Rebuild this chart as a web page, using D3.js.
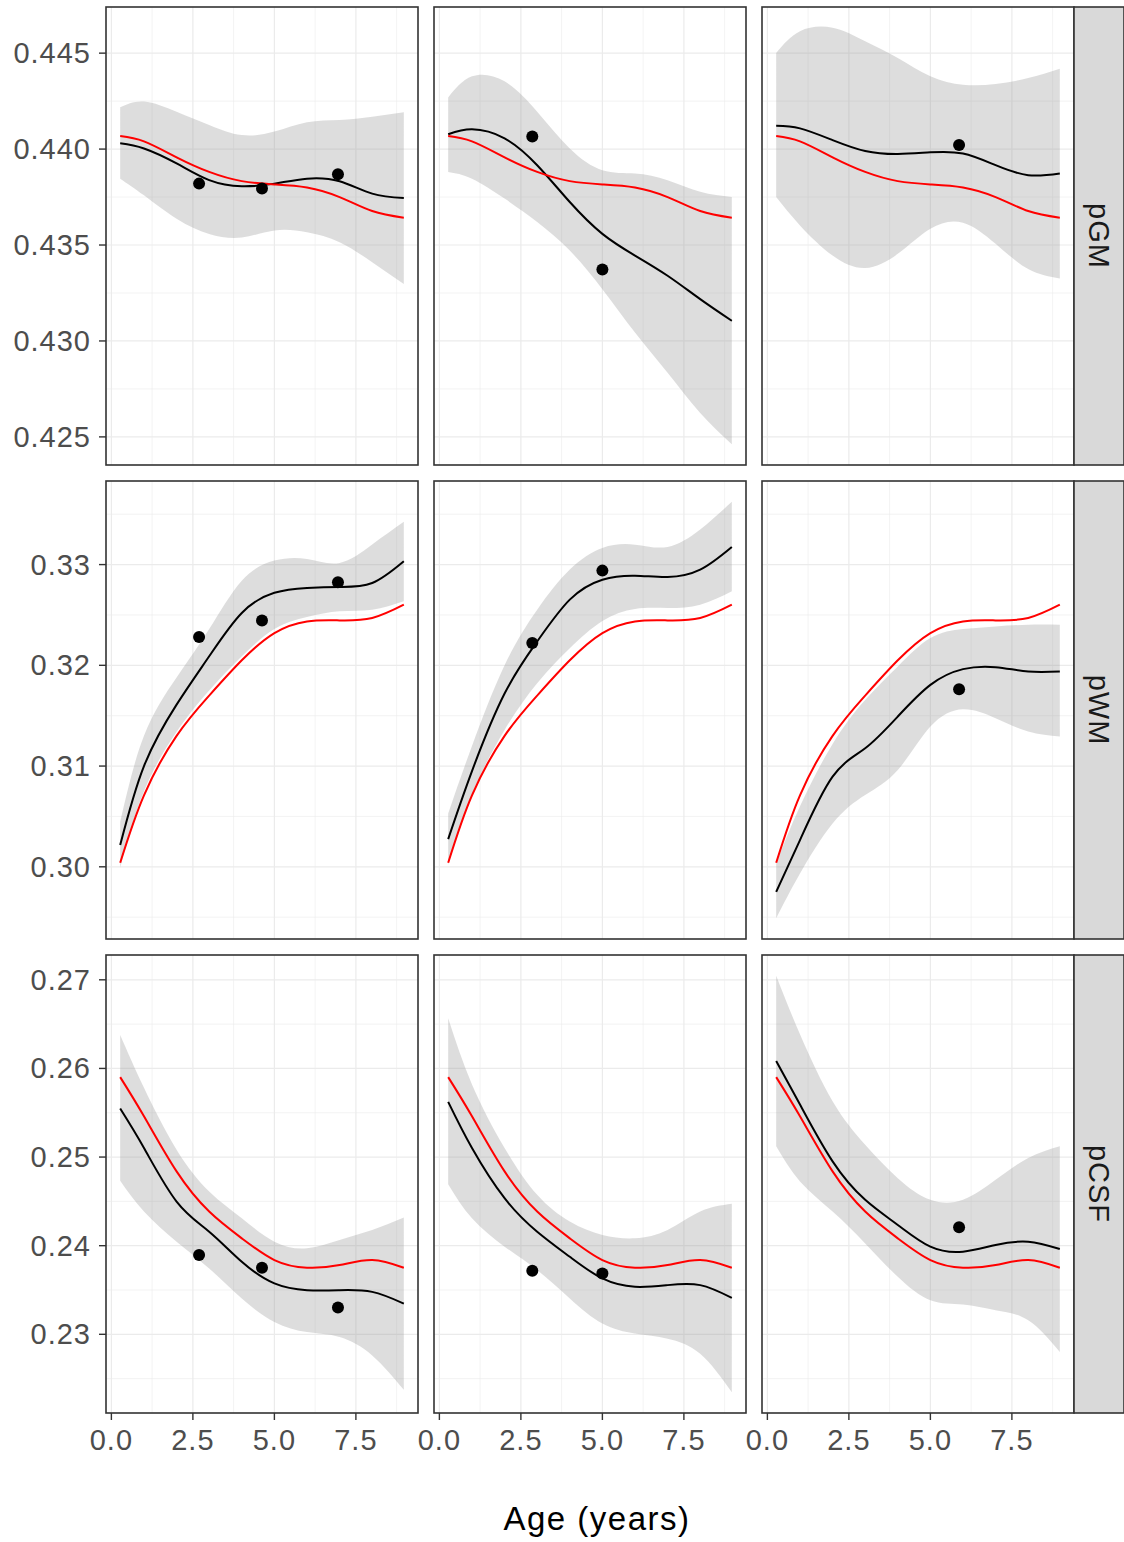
<html lang="en">
<head>
<meta charset="utf-8">
<script src="https://cdn.jsdelivr.net/npm/d3@7"></script>
<style>
body{margin:0;background:#fff;}
text{font-family:"Liberation Sans",Arial,sans-serif;}
</style>
</head>
<body>
<div id="chart"></div>
<script>
// ---- data ----
const measures=["pGM","pWM","pCSF"]
const ageGrid=[0.27,1,2,3,4,5,6,7,8,8.97]

// population curve (red), same in every column of a row
const popGM=[0.44068,0.44040,0.43957,0.43881,0.43833,0.43816,0.43800,0.43750,0.43677,0.43642]
const popWM=[0.30040,0.30710,0.31300,0.31700,0.32050,0.32320,0.32436,0.32446,0.32470,0.32602]
const popCSF=[0.25902,0.25460,0.24838,0.24385,0.24083,0.23838,0.23751,0.23781,0.23838,0.23751]

// subject fits (black) and their bands, one row per column
const fitGM=[
 [0.44030,0.44003,0.43925,0.43838,0.43806,0.43820,0.43846,0.43832,0.43768,0.43745],
 [0.44077,0.44103,0.44056,0.43916,0.43724,0.43558,0.43445,0.43340,0.43218,0.43105],
 [0.44122,0.44108,0.44047,0.43990,0.43974,0.43983,0.43977,0.43916,0.43864,0.43873]]
const hiGM=[
 [0.44218,0.44248,0.44195,0.44126,0.44073,0.44091,0.44140,0.44152,0.44169,0.44192],
 [0.44269,0.44379,0.44353,0.44195,0.44003,0.43890,0.43873,0.43838,0.43777,0.43750],
 [0.44501,0.44614,0.44632,0.44562,0.44475,0.44379,0.44335,0.44339,0.44370,0.44419]]
const loGM=[
 [0.43846,0.43759,0.43637,0.43558,0.43539,0.43576,0.43567,0.43515,0.43410,0.43297],
 [0.43881,0.43846,0.43742,0.43620,0.43471,0.43270,0.43044,0.42834,0.42625,0.42462],
 [0.43750,0.43602,0.43445,0.43380,0.43454,0.43585,0.43616,0.43506,0.43375,0.43326]]

const fitWM=[
 [0.30216,0.31000,0.31610,0.32090,0.32520,0.32720,0.32768,0.32778,0.32817,0.33033],
 [0.30275,0.30950,0.31720,0.32237,0.32652,0.32850,0.32890,0.32877,0.32950,0.33175],
 [0.29751,0.30265,0.30895,0.31177,0.31492,0.31806,0.31962,0.31982,0.31939,0.31939]]
const hiWM=[
 [0.30447,0.31300,0.31880,0.32360,0.32840,0.33040,0.33056,0.33016,0.33199,0.33424],
 [0.30530,0.31200,0.32000,0.32552,0.32950,0.33165,0.33198,0.33175,0.33348,0.33623],
 [0.30033,0.30600,0.31220,0.31657,0.31989,0.32270,0.32360,0.32386,0.32403,0.32403]]
const loWM=[
 [0.29990,0.30750,0.31340,0.31750,0.32090,0.32360,0.32480,0.32536,0.32552,0.32635],
 [0.30020,0.30720,0.31359,0.31823,0.32170,0.32440,0.32560,0.32569,0.32602,0.32735],
 [0.29490,0.29934,0.30431,0.30713,0.30961,0.31392,0.31564,0.31475,0.31342,0.31293]]

const fitCSF=[
 [0.25547,0.25102,0.24498,0.24158,0.23819,0.23574,0.23498,0.23498,0.23479,0.23347],
 [0.25623,0.25102,0.24536,0.24158,0.23875,0.23630,0.23536,0.23555,0.23555,0.23411],
 [0.26083,0.25592,0.24951,0.24517,0.24234,0.23989,0.23932,0.24008,0.24045,0.23962]]
const hiCSF=[
 [0.26377,0.25781,0.25083,0.24611,0.24309,0.24045,0.23970,0.24064,0.24177,0.24317],
 [0.26566,0.25819,0.25102,0.24574,0.24272,0.24121,0.24083,0.24177,0.24385,0.24472],
 [0.27045,0.26385,0.25630,0.25140,0.24762,0.24517,0.24517,0.24743,0.24989,0.25121]]
const loCSF=[
 [0.24732,0.24385,0.24045,0.23743,0.23404,0.23140,0.23026,0.22970,0.22762,0.22374],
 [0.24694,0.24309,0.23989,0.23725,0.23404,0.23121,0.23008,0.22951,0.22781,0.22347],
 [0.25121,0.24725,0.24385,0.24026,0.23649,0.23385,0.23336,0.23272,0.23158,0.22800]]

// observed scans (dots)
const ptAge=[[2.69,4.62,6.95],[2.85,5.0],[5.88]]
const ptGM=[[0.43820,0.43794,0.43869],[0.44065,0.43372],[0.44021]]
const ptWM=[[0.32280,0.32446,0.32824],[0.32221,0.32940],[0.31763]]
const ptCSF=[[0.23894,0.23751,0.23302],[0.23717,0.23687],[0.24208]]

const xTicks=[0,2.5,5,7.5]
const xTitle="Age (years)"

const rows=[
 {name:"pGM",pop:popGM,fit:fitGM,hi:hiGM,lo:loGM,pt:ptGM},
 {name:"pWM",pop:popWM,fit:fitWM,hi:hiWM,lo:loWM,pt:ptWM},
 {name:"pCSF",pop:popCSF,fit:fitCSF,hi:hiCSF,lo:loCSF,pt:ptCSF}]

// ---- layout ----
const W=1124,H=1542
const left0=106,top0=7,panelW=312,panelH=458,gap=16,stripW=50
const grid="#EBEBEB",frame="#333333",tickText="#4D4D4D"

const svg=d3.select("#chart").append("svg").attr("width",W).attr("height",H)
svg.append("rect").attr("width",W).attr("height",H).attr("fill","#fff")

function expand(ext){const d=(ext[1]-ext[0])*0.05;return [ext[0]-d,ext[1]+d]}

const x=d3.scaleLinear().domain(expand(d3.extent(ageGrid))).range([0,panelW])
const xMinor=xTicks.map(t=>t+1.25).filter(t=>t<=x.domain()[1])
const curve=d3.curveNatural

rows.forEach((row,r)=>{
 const all=[].concat(row.pop,...row.fit,...row.hi,...row.lo,...row.pt)
 const dom=expand(d3.extent(all))
 const y=d3.scaleLinear().domain(dom).range([panelH,0])
 const yt=y.ticks(5)
 const step=d3.tickStep(dom[0],dom[1],5)
 const fmt=d3.format("."+d3.precisionFixed(step)+"f")
 const yMinor=[yt[0]-step/2].concat(yt.map(t=>t+step/2)).filter(t=>t>=dom[0]&&t<=dom[1])
 const py=top0+r*(panelH+gap)

 for(let c=0;c<3;c++){
  const px=left0+c*(panelW+gap)
  const g=svg.append("g").attr("transform","translate("+px+","+py+")")
  g.append("rect").attr("width",panelW).attr("height",panelH).attr("fill","#fff")
  // grid
  g.selectAll(".ymin").data(yMinor).join("line").attr("x1",0).attr("x2",panelW)
   .attr("y1",d=>y(d)).attr("y2",d=>y(d)).attr("stroke",grid).attr("stroke-width",0.6)
  g.selectAll(".xmin").data(xMinor).join("line").attr("y1",0).attr("y2",panelH)
   .attr("x1",d=>x(d)).attr("x2",d=>x(d)).attr("stroke",grid).attr("stroke-width",0.6)
  g.selectAll(".ymaj").data(yt).join("line").attr("x1",0).attr("x2",panelW)
   .attr("y1",d=>y(d)).attr("y2",d=>y(d)).attr("stroke",grid).attr("stroke-width",1.2)
  g.selectAll(".xmaj").data(xTicks).join("line").attr("y1",0).attr("y2",panelH)
   .attr("x1",d=>x(d)).attr("x2",d=>x(d)).attr("stroke",grid).attr("stroke-width",1.2)

  const band=ageGrid.map((a,i)=>({a:a,hi:row.hi[c][i],lo:row.lo[c][i],fit:row.fit[c][i],pop:row.pop[i]}))
  g.append("path").datum(band)
   .attr("d",d3.area().curve(curve).x(d=>x(d.a)).y0(d=>y(d.lo)).y1(d=>y(d.hi)))
   .attr("fill","#999999").attr("fill-opacity",0.33)
  g.append("path").datum(band)
   .attr("d",d3.line().curve(curve).x(d=>x(d.a)).y(d=>y(d.fit)))
   .attr("fill","none").attr("stroke","#000").attr("stroke-width",2)
  g.append("path").datum(band)
   .attr("d",d3.line().curve(curve).x(d=>x(d.a)).y(d=>y(d.pop)))
   .attr("fill","none").attr("stroke","#FF0000").attr("stroke-width",2)
  g.selectAll(".pt").data(ptAge[c].map((a,i)=>({a:a,v:row.pt[c][i]}))).join("circle")
   .attr("cx",d=>x(d.a)).attr("cy",d=>y(d.v)).attr("r",6).attr("fill","#000")
  g.append("rect").attr("width",panelW).attr("height",panelH)
   .attr("fill","none").attr("stroke",frame).attr("stroke-width",1.6)

  if(c===0){
   const ax=svg.append("g").attr("transform","translate("+px+","+py+")")
   ax.selectAll("line").data(yt).join("line").attr("x1",-7).attr("x2",0)
    .attr("y1",d=>y(d)).attr("y2",d=>y(d)).attr("stroke",frame).attr("stroke-width",1.4)
   ax.selectAll("text").data(yt).join("text").attr("x",-15).attr("y",d=>y(d))
    .attr("text-anchor","end").attr("dominant-baseline","central")
    .attr("fill",tickText).style("font-size","29px").style("letter-spacing","1px").text(fmt)
  }
  if(r===2){
   const ax=svg.append("g").attr("transform","translate("+px+","+(py+panelH)+")")
   ax.selectAll("line").data(xTicks).join("line").attr("y1",0).attr("y2",7)
    .attr("x1",d=>x(d)).attr("x2",d=>x(d)).attr("stroke",frame).attr("stroke-width",1.4)
   ax.selectAll("text").data(xTicks).join("text").attr("x",d=>x(d)).attr("y",37)
    .attr("text-anchor","middle").attr("fill",tickText).style("font-size","29px")
    .style("letter-spacing","1px").text(d3.format(".1f"))
  }
 }
 // strip on the right
 const sx=left0+3*panelW+2*gap
 svg.append("rect").attr("x",sx).attr("y",py).attr("width",stripW).attr("height",panelH)
  .attr("fill","#D9D9D9").attr("stroke",frame).attr("stroke-width",1.6)
 svg.append("text").attr("transform","translate("+(sx+stripW/2)+","+(py+panelH/2)+") rotate(90)")
  .attr("text-anchor","middle").attr("dominant-baseline","central")
  .attr("fill","#1A1A1A").style("font-size","29px").style("letter-spacing","1px").text(row.name)
})

svg.append("text").attr("x",597).attr("y",1530).attr("text-anchor","middle")
 .attr("fill","#000").style("font-size","33px").style("letter-spacing","1.5px").text(xTitle)
</script>
</body>
</html>
